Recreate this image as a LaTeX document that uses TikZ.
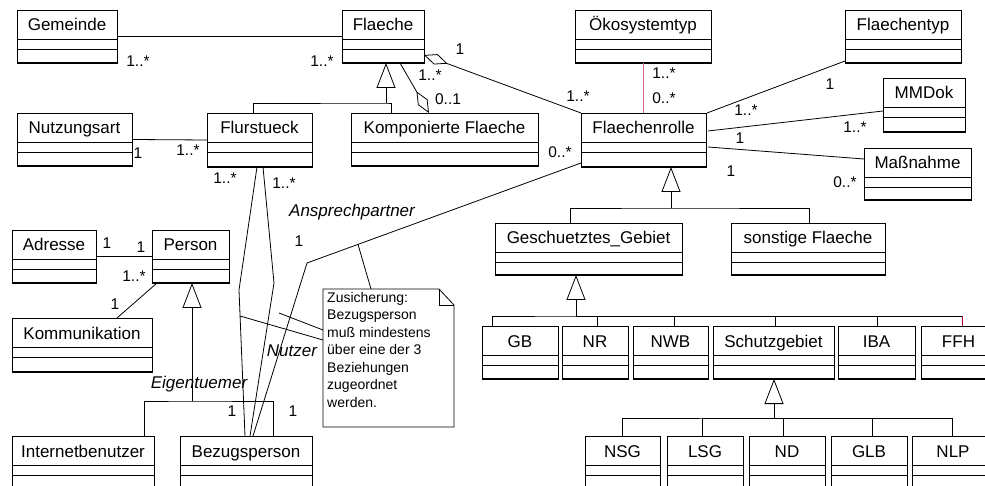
\documentclass[tikz,border=0pt]{standalone}
\usepackage{fontspec}
\setmainfont{Liberation Sans}
\usetikzlibrary{arrows.meta,calc}
\definecolor{pinkline}{RGB}{205,100,150}
\definecolor{redline}{RGB}{170,0,50}
\tikzset{
  classbox/.style={draw, line width=0.8pt, inner sep=0pt, outer sep=0pt},
  classname/.style={inner sep=0pt, anchor=base, font=\fontsize{17}{19}\selectfont},
  boxline/.style={line width=0.8pt},
  conn/.style={draw, line width=0.8pt},
  gen/.style={draw, line width=0.8pt, -{Triangle[open,length=25pt,width=19pt]}},
  aggr/.style={draw, line width=0.8pt, -{Diamond[open,length=25pt,width=11pt]}},
  mult/.style={inner sep=0pt, font=\fontsize{15.5}{17}\selectfont},
  role/.style={inner sep=0pt, font=\fontsize{17}{19}\selectfont\itshape},
  notetext/.style={inner sep=0pt, align=left, font=\fontsize{14}{17.5}\selectfont},
}
\newcommand\umlclass[6]{%
  \node[classbox, minimum width={(#4-#2)*1pt}, minimum height={(#5-#3)*1pt}] (#1) at ({(#2+#4)/2},{(#3+#5)/2}) {};
  \node[classname] (#1-name) at ({(#2+#4)/2},{#3+21}) {#6};
  \draw[boxline] ($(#1.north west)+(0,29)$) -- ($(#1.north east)+(0,29)$);
  \draw[boxline] ($(#1.north west)+(0,39.5)$) -- ($(#1.north east)+(0,39.5)$);
  \draw[line width=1.6pt] (#1.south west) -- (#1.south east);
}
\begin{document}
\begin{tikzpicture}[x=1pt,y=-1pt]
\useasboundingbox (0,0) rectangle (985,486);
% classes
\umlclass{gemeinde}{17}{10}{117}{63}{Gemeinde}
\umlclass{flaeche}{342}{10}{424}{63}{Flaeche}
\umlclass{oeko}{575}{10}{711}{63}{Ökosystemtyp}
\umlclass{ftyp}{845}{10}{961}{63}{Flaechentyp}
\umlclass{mmdok}{883}{78}{965}{132}{MMDok}
\umlclass{massn}{864}{148}{971}{200}{Maßnahme}
\umlclass{frolle}{581}{113}{706}{167}{Flaechenrolle}
\umlclass{kompon}{351}{113}{538}{166}{Komponierte Flaeche}
\umlclass{flurst}{207}{113}{312}{167}{Flurstueck}
\umlclass{nutz}{17}{113}{132}{166}{Nutzungsart}
\umlclass{adresse}{12}{230}{96}{283}{Adresse}
\umlclass{person}{152}{230}{229}{283}{Person}
\umlclass{komm}{12}{318}{152}{372}{Kommunikation}
\umlclass{inet}{12}{436}{154}{490}{Internetbenutzer}
\umlclass{bezug}{180}{436}{312}{490}{Bezugsperson}
\umlclass{gesch}{495}{223}{682}{275}{Geschuetztes\_Gebiet}
\umlclass{sonst}{731}{223}{885}{275}{sonstige Flaeche}
\umlclass{gb}{482}{326}{558}{379}{GB}
\umlclass{nr}{562}{326}{628}{379}{NR}
\umlclass{nwb}{633}{326}{708}{379}{NWB}
\umlclass{schutz}{713}{326}{834}{379}{Schutzgebiet}
\umlclass{iba}{838}{326}{915}{379}{IBA}
\umlclass{ffh}{921}{326}{996}{379}{FFH}
\umlclass{nsg}{585}{436}{660}{490}{NSG}
\umlclass{lsg}{667}{436}{743}{490}{LSG}
\umlclass{nd}{749}{436}{825}{490}{ND}
\umlclass{glb}{831}{436}{907}{490}{GLB}
\umlclass{nlp}{912}{436}{994}{490}{NLP}
% note
\node[inner sep=0pt, outer sep=0pt, minimum width=131pt, minimum height=138pt] (note) at (388.5,358) {};
\draw[conn] (note.north west) -- ($(note.north east)+(-15,0)$) -- ($(note.north east)+(0,16)$) -- (note.south east) -- (note.south west) -- cycle;
\draw[conn] ($(note.north east)+(-15,0)$) |- ($(note.north east)+(0,16)$);
\node[notetext, anchor=north west] (notetxt) at (327,292) {Zusicherung:\\Bezugsperson\\muß mindestens\\über eine der 3\\Beziehungen\\zugeordnet\\werden.};
% associations
\draw[conn] (gemeinde.east) -- (flaeche.west);
\draw[conn] (nutz.east) -- (flurst.west);
\draw[conn] (adresse.east) -- (person.west);
\draw[conn] ($(person.south west)+(5,0)$) -- ($(komm.north west)+(105,0)$);
\draw[aggr] ($(flaeche.south west)+(58,0)$) -- ($(kompon.north west)+(78,0)$);
\draw[aggr] (frolle.north west) -- ($(flaeche.north east)+(0,45)$);
\draw[conn, pinkline] (oeko.south) -- (oeko.south |- frolle.north);
\draw[conn] ($(frolle.north east)+(1,0)$) -- ($(ftyp.south west)+(0,-2)$);
\draw[conn] ($(frolle.north east)+(2,18)$) -- ($(mmdok.north west)+(0,33)$);
\draw[conn] ($(frolle.north east)+(2,34)$) -- ($(massn.north west)+(0,11)$);
\coordinate (ak) at (307,263);
\coordinate (eb) at (239,290);
\coordinate (nb) at (274,283);
\draw[conn] ($(frolle.north west)+(0,50)$) -- (ak) -- ($(bezug.north west)+(73,0)$);
\draw[conn] ($(flurst.south west)+(50,0)$) -- (eb) -- ($(bezug.north west)+(65,0)$);
\draw[conn] ($(flurst.south west)+(56,0)$) -- (nb) -- ($(bezug.north west)+(70,0)$);
% note anchors
\coordinate (na) at (358,244.4);
\draw[conn] (na) -- ($(note.north west)+(48,0)$);
\coordinate (ne) at (240,316);
\draw[conn] (ne) -- ($(note.north west)+(0,51)$);
\coordinate (nn) at (279,313);
\draw[conn] (nn) -- ($(note.north west)+(0,41)$);
% generalizations
\coordinate (fj) at (386,103);
\draw[gen] (fj) -- (flaeche.south -| fj);
\draw[conn] ($(flurst.north west)+(46,0)$) |- (fj) -| ($(kompon.north west)+(40,0)$);
\coordinate (pj) at (192,401);
\draw[gen] (pj) -- (person.south -| pj);
\draw[conn] ($(inet.north west)+(132,0)$) |- (pj) -| ($(bezug.north west)+(93,0)$);
\coordinate (rj) at (671,208);
\draw[gen] (rj) -- (frolle.south -| rj);
\draw[conn] ($(gesch.north west)+(75,0)$) |- (rj) -| ($(sonst.north west)+(78,0)$);
\coordinate (gj) at (576,316);
\draw[gen] (gj) -- (gesch.south -| gj);
\coordinate (ffhtop) at ($(ffh.north west)+(41,0)$);
\draw[conn] ($(gb.north west)+(10,0)$) |- (gj) -- (gj -| ffhtop);
\draw[conn, redline] (gj -| ffhtop) -- (ffhtop);
\draw[conn] ($(nr.north west)+(35,0)$) |- (gj);
\draw[conn] ($(nwb.north west)+(41,0)$) |- (gj);
\draw[conn] ($(schutz.north west)+(62,0)$) |- (gj);
\draw[conn] ($(iba.north west)+(39,0)$) |- (gj);
\coordinate (sj) at (774,418);
\draw[gen] (sj) -- (schutz.south -| sj);
\draw[conn] ($(nsg.north west)+(37,0)$) |- (sj) -| ($(nlp.north west)+(40,0)$);
\draw[conn] ($(lsg.north west)+(35,0)$) |- (sj);
\draw[conn] ($(nd.north west)+(34,0)$) |- (sj);
\draw[conn] ($(glb.north west)+(41,0)$) |- (sj);
% multiplicities
\node[mult] (m1) at (138,61) {1..*};
\node[mult] (m2) at (322,61) {1..*};
\node[mult] (m3) at (460,49) {1};
\node[mult] (m4) at (430,75) {1..*};
\node[mult] (m5) at (448,99) {0..1};
\node[mult] (m6) at (578,96) {1..*};
\node[mult] (m7) at (664,73) {1..*};
\node[mult] (m8) at (664,98) {0..*};
\node[mult] (m9) at (830,84) {1};
\node[mult] (m10) at (746,110) {1..*};
\node[mult] (m11) at (855,127) {1..*};
\node[mult] (m12) at (740,138) {1};
\node[mult] (m13) at (731,171) {1};
\node[mult] (m14) at (845,182) {0..*};
\node[mult] (m15) at (560,152) {0..*};
\node[mult] (m16) at (138,153) {1};
\node[mult] (m17) at (188,150) {1..*};
\node[mult] (m18) at (225,178) {1..*};
\node[mult] (m19) at (284,183) {1..*};
\node[mult] (m20) at (299,241) {1};
\node[mult] (m21) at (107,243) {1};
\node[mult] (m22) at (141,247) {1};
\node[mult] (m23) at (134,276) {1..*};
\node[mult] (m24) at (115,304) {1};
\node[mult] (m25) at (232,411) {1};
\node[mult] (m26) at (293,411) {1};
% roles
\node[role] (r1) at (352,212) {Ansprechpartner};
\node[role] (r2) at (292,351) {Nutzer};
\node[role] (r3) at (199,384) {Eigentuemer};
\end{tikzpicture}
\end{document}
